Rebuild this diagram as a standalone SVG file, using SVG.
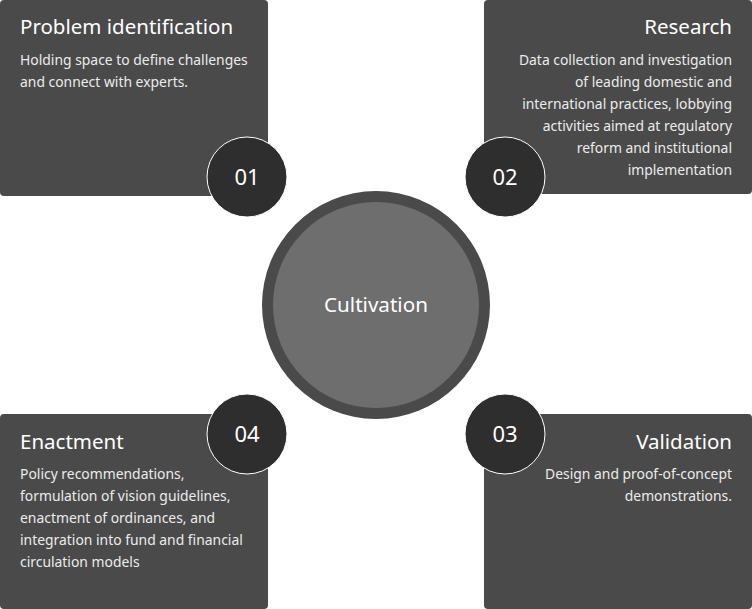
<svg xmlns="http://www.w3.org/2000/svg" width="752" height="609" viewBox="0 0 752 609">
<style>
.box{fill:#4a4a4a}
.num{fill:#2e2e2e;stroke:#ffffff;stroke-width:1}
.t{font-family:"Noto Sans","Open Sans",sans-serif;fill:#ffffff}
.title{font-size:20.5px}
.body{font-size:13.9px;fill:#ececec}
.n{font-size:22px;text-anchor:middle}
.r{text-anchor:end}
</style>
<rect width="752" height="609" fill="#ffffff"/>
<g id="connectors"></g>
<g id="node-center">
<circle cx="376" cy="305" r="114" fill="#4a4a4a"/>
<circle cx="376" cy="305" r="103" fill="#6e6e6e"/>
<text class="t" x="376" y="312" font-size="20.6" text-anchor="middle">Cultivation</text>
</g>
<g id="node-1">
<rect class="box" x="0" y="0" width="268" height="196" rx="4"/>
<text class="t title" x="20" y="34">Problem identification</text>
<text class="t body" x="20" y="65">Holding space to define challenges</text>
<text class="t body" x="20" y="87">and connect with experts.</text>
<circle class="num" cx="247" cy="177" r="40"/>
<text class="t n" x="247" y="185">01</text>
</g>
<g id="node-2">
<rect class="box" x="484" y="0" width="268" height="194" rx="4"/>
<text class="t title r" x="732" y="34">Research</text>
<text class="t body r" x="732" y="65">Data collection and investigation</text>
<text class="t body r" x="732" y="87">of leading domestic and</text>
<text class="t body r" x="732" y="109">international practices, lobbying</text>
<text class="t body r" x="732" y="131">activities aimed at regulatory</text>
<text class="t body r" x="732" y="153">reform and institutional</text>
<text class="t body r" x="732" y="175">implementation</text>
<circle class="num" cx="505" cy="177" r="40"/>
<text class="t n" x="505" y="185">02</text>
</g>
<g id="node-3">
<rect class="box" x="484" y="414" width="268" height="195" rx="4"/>
<text class="t title r" x="732" y="449">Validation</text>
<text class="t body r" x="732" y="479">Design and proof-of-concept</text>
<text class="t body r" x="732" y="501">demonstrations.</text>
<circle class="num" cx="505" cy="434" r="40"/>
<text class="t n" x="505" y="442">03</text>
</g>
<g id="node-4">
<rect class="box" x="0" y="414" width="268" height="195" rx="4"/>
<text class="t title" x="20" y="449">Enactment</text>
<text class="t body" x="20" y="479">Policy recommendations,</text>
<text class="t body" x="20" y="501">formulation of vision guidelines,</text>
<text class="t body" x="20" y="523">enactment of ordinances, and</text>
<text class="t body" x="20" y="545">integration into fund and financial</text>
<text class="t body" x="20" y="567">circulation models</text>
<circle class="num" cx="247" cy="434" r="40"/>
<text class="t n" x="247" y="442">04</text>
</g>
</svg>
